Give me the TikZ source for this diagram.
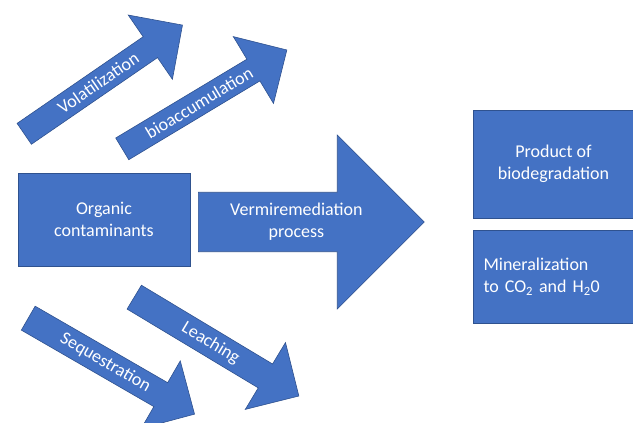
\documentclass[tikz,border=0pt]{standalone}
\usepackage{fontspec}
\setmainfont{Carlito}
\usepackage{tikz}
\usetikzlibrary{shapes.arrows}
\definecolor{boxblue}{HTML}{4472C4}
\definecolor{edgeblue}{HTML}{2F528F}
\tikzset{
  blk/.style={fill=boxblue,draw=edgeblue,line width=0.6pt,text=white,
    font=\fontsize{18}{22}\selectfont},
  sidearrow/.style={blk,single arrow,anchor=tail,minimum height=192,
    minimum width=78,single arrow head extend=20,single arrow head indent=0,
    inner sep=3},
  bigarrow/.style={blk,single arrow,anchor=tail,minimum height=226,
    minimum width=174,single arrow head extend=43,single arrow head indent=0,
    align=center},
  box/.style={blk,rectangle,align=center}
}

\begin{document}
\begin{tikzpicture}[x=1pt,y=-1pt]
    \useasboundingbox (0,0) rectangle (633,423);
    \node[sidearrow,rotate=34.5] at (24,134)  (volat)  {Volatilization};
    \node[sidearrow,rotate=31]   at (122,149) (bioacc) {bioaccumulation};
    \node[sidearrow,rotate=-30]  at (28,318)  (seq)    {Sequestration};
    \node[sidearrow,rotate=-31]  at (134,297) (leach)  {Leaching};
    \node[box,minimum width=172,minimum height=93] at (104,219.5) (organic) {Organic\\contaminants};
    \node[bigarrow] at (198,222) (vermi) {Vermiremediation\\process};
    \node[box,minimum width=161,minimum height=108] at (553.5,164) (product) {Product of\\biodegradation};
    \node[box,minimum width=161,minimum height=93,text width=140,align=left,inner xsep=10.5] at (553.5,276.5) (mineral)
      {Mineralization\\to CO\textsubscript{2} and H\textsubscript{2}0};
\end{tikzpicture}
\end{document}
